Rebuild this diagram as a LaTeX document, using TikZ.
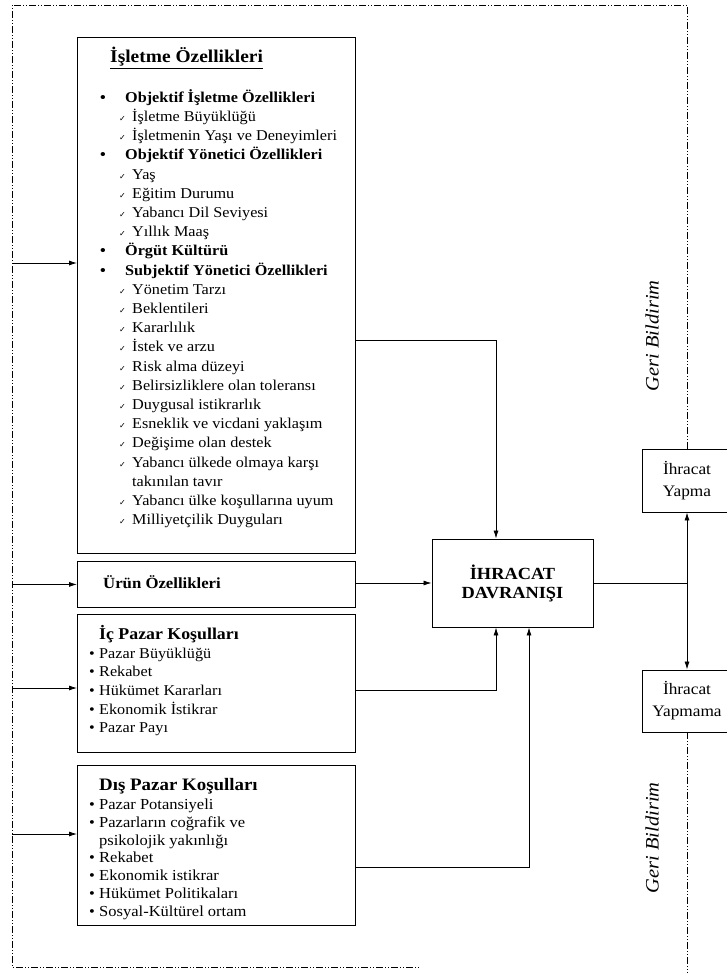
\documentclass[tikz,border=0pt]{standalone}
\usepackage{fontspec}
\setmainfont[FakeStretch=1.08]{Liberation Serif}
\newfontfamily\symfont{DejaVu Sans}
\usetikzlibrary{arrows.meta}
\newcommand{\ckmark}{{\symfont\fontsize{8}{8}\selectfont ✓}}
\newcommand{\chkitem}[1]{\hspace*{19pt}\makebox[13pt][l]{\ckmark}#1}
\newcommand{\bulitem}[1]{\makebox[25pt][l]{\textbf{•}}\textbf{#1}}
\newcommand{\dotitem}[1]{\makebox[10pt][l]{•}#1}
\begin{document}
\begin{tikzpicture}[x=1pt,y=-1pt,
  box/.style={draw, line width=0.9pt, inner sep=0pt},
  conn/.style={line width=0.8pt},
  arr/.style={conn, -{Latex[length=8pt,width=5pt]}},
  fb/.style={line width=0.8pt, dash pattern=on 7pt off 2pt on 1pt off 2pt on 1pt off 2pt},
  lst/.style={anchor=north west, inner sep=0pt, align=left},
  ttl/.style={anchor=base west, inner sep=0pt},
  gb/.style={rotate=90, inner sep=0pt, font=\itshape\fontsize{19}{19}\selectfont}
]
\useasboundingbox (0,0) rectangle (727,973);

% boxes
\node[box, anchor=north west, minimum width=278pt, minimum height=516pt] (b1) at (77,37) {};
\node[box, anchor=north west, minimum width=278pt, minimum height=46pt] (b2) at (77,561) {};
\node[box, anchor=north west, minimum width=278pt, minimum height=138pt] (b3) at (77,614) {};
\node[box, anchor=north west, minimum width=278pt, minimum height=160pt] (b4) at (77,765) {};

\node[box, minimum width=161pt, minimum height=88pt, align=center,
      font=\bfseries\fontsize{17}{19}\selectfont] (ih) at (512.5,583) {İHRACAT\\DAVRANIŞI};
\node[box, minimum width=90pt, minimum height=63pt, align=center,
      font=\fontsize{16}{22}\selectfont] (yap) at (687,480.5) {İhracat\\Yapma};
\node[box, minimum width=90pt, minimum height=62pt, align=center,
      font=\fontsize{16}{22}\selectfont] (yapm) at (687,701) {İhracat\\Yapmama};

% box 1 content
\node[ttl, font=\bfseries\fontsize{18}{18}\selectfont] (t1) at (110,63) {\underline{İşletme Özellikleri}};
\node[lst, font=\fontsize{15}{19.2}\selectfont] (l1) at (100,88) {%
\rule{0pt}{14pt}\bulitem{Objektif İşletme Özellikleri}\\
\chkitem{İşletme Büyüklüğü}\\
\chkitem{İşletmenin Yaşı ve Deneyimleri}\\
\bulitem{Objektif Yönetici Özellikleri}\\
\chkitem{Yaş}\\
\chkitem{Eğitim Durumu}\\
\chkitem{Yabancı Dil Seviyesi}\\
\chkitem{Yıllık Maaş}\\
\bulitem{Örgüt Kültürü}\\
\bulitem{Subjektif Yönetici Özellikleri}\\
\chkitem{Yönetim Tarzı}\\
\chkitem{Beklentileri}\\
\chkitem{Kararlılık}\\
\chkitem{İstek ve arzu}\\
\chkitem{Risk alma düzeyi}\\
\chkitem{Belirsizliklere olan toleransı}\\
\chkitem{Duygusal istikrarlık}\\
\chkitem{Esneklik ve vicdani yaklaşım}\\
\chkitem{Değişime olan destek}\\
\chkitem{Yabancı ülkede olmaya karşı}\\
\hspace*{32pt}takınılan tavır\\
\chkitem{Yabancı ülke koşullarına uyum}\\
\chkitem{Milliyetçilik Duyguları}};

% box 2 content
\node[ttl, font=\bfseries\fontsize{15.5}{18}\selectfont] (t2) at (103,588) {Ürün Özellikleri};

% box 3 content
\node[ttl, font=\bfseries\fontsize{16.5}{18}\selectfont] (t3) at (99,639) {İç Pazar Koşulları};
\node[lst, font=\fontsize{15}{18.6}\selectfont] (l3) at (89,644) {%
\rule{0pt}{14pt}\dotitem{Pazar Büyüklüğü}\\
\dotitem{Rekabet}\\
\dotitem{Hükümet Kararları}\\
\dotitem{Ekonomik İstikrar}\\
\dotitem{Pazar Payı}};

% box 4 content
\node[ttl, font=\bfseries\fontsize{17.5}{18}\selectfont] (t4) at (99,790) {Dış Pazar Koşulları};
\node[lst, font=\fontsize{15.3}{17.9}\selectfont] (l4) at (89,795) {%
\rule{0pt}{14pt}\dotitem{Pazar Potansiyeli}\\
\dotitem{Pazarların coğrafik ve}\\
\hspace*{10pt}psikolojik yakınlığı\\
\dotitem{Rekabet}\\
\dotitem{Ekonomik istikrar}\\
\dotitem{Hükümet Politikaları}\\
\dotitem{Sosyal-Kültürel ortam}};

% feedback labels
\node[gb] (gb1) at (652,336) {Geri Bildirim};
\node[gb] (gb2) at (652,838) {Geri Bildirim};

% connectors into the behaviour box
\coordinate (j1) at (496,340);
\coordinate (j3) at (496,690);
\coordinate (j4) at (529,867);
\draw[arr] (j1 -| b1.east) -- (j1) -- (j1 |- ih.north);
\draw[arr] (b2.east |- ih.west) -- (ih.west);
\draw[arr] (j3 -| b3.east) -- (j3) -- (j3 |- ih.south);
\draw[arr] (j4 -| b4.east) -- (j4) -- (j4 |- ih.south);

% outcome split
\coordinate (sp) at (687,583);
\draw[conn] (ih.east) -- (sp);
\draw[arr] (sp) -- (yap.south);
\draw[arr] (sp) -- (yapm.north);

% feedback loop
\coordinate (ftr) at (687,5);
\coordinate (ftl) at (12,5);
\coordinate (fbl) at (12,967);
\coordinate (fbe) at (420,967);
\coordinate (fbr) at (687,973);
\draw[fb] (yap.north) -- (ftr) -- (ftl) -- (fbl) -- (fbe);
\draw[fb] (yapm.south) -- (fbr);

% inputs from the feedback line
\coordinate (in1) at (12,263);
\coordinate (in3) at (12,688);
\coordinate (in4) at (12,834);
\draw[arr] (in1) -- (in1 -| b1.west);
\draw[arr] (12,0 |- b2.west) -- (b2.west);
\draw[arr] (in3) -- (in3 -| b3.west);
\draw[arr] (in4) -- (in4 -| b4.west);
\end{tikzpicture}
\end{document}
